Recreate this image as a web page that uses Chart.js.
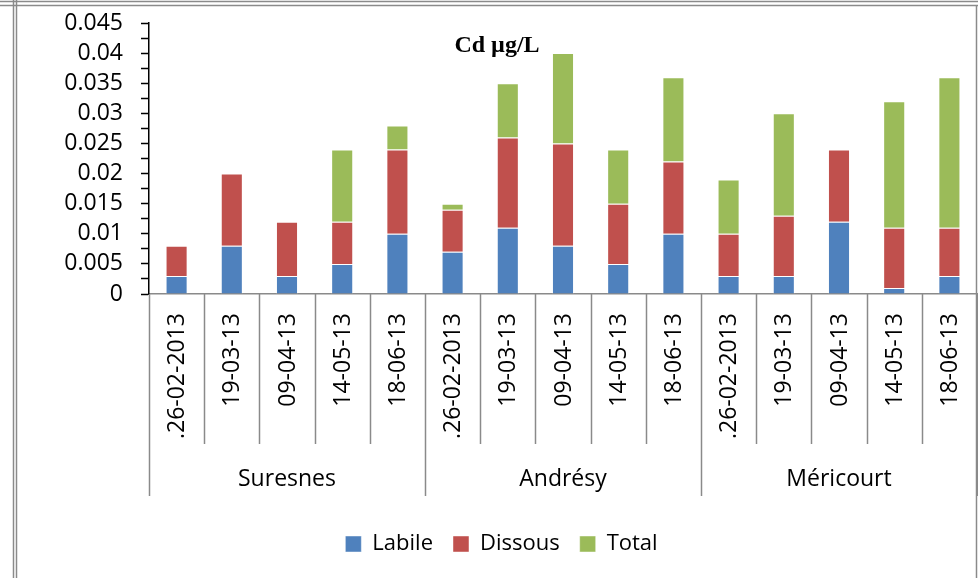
<!DOCTYPE html>
<html>
<head>
<meta charset="utf-8">
<title>Cd µg/L</title>
<script src="https://cdn.jsdelivr.net/npm/chart.js@4"></script>
<style>
  html, body { margin: 0; padding: 0; background: #fff; }
  canvas { display: block; }
</style>
</head>
<body>
<canvas id="cdChart" width="978" height="578"></canvas>
<script>
// sampling dates, three sites of five dates each
const dates = ['.26-02-2013', '19-03-13', '09-04-13', '14-05-13', '18-06-13',
               '.26-02-2013', '19-03-13', '09-04-13', '14-05-13', '18-06-13',
               '.26-02-2013', '19-03-13', '09-04-13', '14-05-13', '18-06-13'];
const sites = ['Suresnes', 'Andrésy', 'Méricourt'];

// stacked segments (µg/L)
const labile  = [0.003, 0.008, 0.003, 0.005, 0.010,  0.007, 0.011, 0.008, 0.005, 0.010,  0.003, 0.003, 0.012, 0.001, 0.003];
const dissous = [0.005, 0.012, 0.009, 0.007, 0.014,  0.007, 0.015, 0.017, 0.010, 0.012,  0.007, 0.010, 0.012, 0.010, 0.008];
const total   = [0,     0,     0,     0.012, 0.004,  0.001, 0.009, 0.015, 0.009, 0.014,  0.009, 0.017, 0,     0.021, 0.025];

const yMax = 0.045;
const yStep = 0.0025;

const FONT = '"Open Sans", "DejaVu Sans", sans-serif';

// frame, title and the two-level category axis
const decor = {
    id: 'decor',
    beforeDraw(chart) {
        const ctx = chart.ctx;
        ctx.save();
        ctx.fillStyle = '#fff';
        ctx.fillRect(0, 0, chart.width, chart.height);
        ctx.strokeStyle = '#8a8a8a';
        ctx.lineWidth = 1.5;
        ctx.beginPath();
        ctx.moveTo(13.5, 0); ctx.lineTo(13.5, chart.height);
        ctx.moveTo(16.5, 0); ctx.lineTo(16.5, chart.height);
        ctx.moveTo(0, 1.5); ctx.lineTo(chart.width, 1.5);
        ctx.moveTo(0, 5.5); ctx.lineTo(chart.width, 5.5);
        ctx.moveTo(976.5, 5.5); ctx.lineTo(976.5, chart.height);
        ctx.stroke();
        ctx.restore();
    },
    afterDraw(chart) {
        const ctx = chart.ctx;
        const x = chart.scales.x;
        const y0 = x.top;
        const half = (x.getPixelForValue(1) - x.getPixelForValue(0)) / 2;

        ctx.save();
        // title
        ctx.fillStyle = '#000';
        ctx.font = 'bold 24px "Liberation Serif", "DejaVu Serif", serif';
        ctx.textAlign = 'center';
        ctx.textBaseline = 'alphabetic';
        ctx.fillText('Cd µg/L', 497, 52);

        // separators
        ctx.strokeStyle = '#8a8a8a';
        ctx.lineWidth = 1.5;
        ctx.beginPath();
        for (let i = 0; i <= dates.length; i++) {
            const px = Math.round(x.getPixelForValue(i) - half) + 0.5;
            const isGroup = i % 5 === 0;
            ctx.moveTo(px, y0);
            ctx.lineTo(px, isGroup ? y0 + 202 : y0 + 150);
        }
        ctx.stroke();

        // rotated dates
        ctx.font = '23px ' + FONT;
        ctx.textAlign = 'right';
        ctx.textBaseline = 'middle';
        dates.forEach((d, i) => {
            ctx.save();
            ctx.translate(x.getPixelForValue(i) + 1, y0 + 19);
            ctx.rotate(-Math.PI / 2);
            ctx.fillText(d, 0, 0);
            ctx.restore();
        });

        // site names
        ctx.textAlign = 'center';
        sites.forEach((s, g) => {
            const cx = (x.getPixelForValue(g * 5) + x.getPixelForValue(g * 5 + 4)) / 2;
            ctx.fillText(s, cx, y0 + 185);
        });
        ctx.restore();
    }
};

const ctx = document.getElementById('cdChart').getContext('2d');
const cdChart = new Chart(ctx, {
    type: 'bar',
    data: {
        labels: dates,
        datasets: [
            { label: 'Labile', data: labile, backgroundColor: '#4F81BD' },
            { label: 'Dissous', data: dissous, backgroundColor: '#C0504D' },
            { label: 'Total', data: total, backgroundColor: '#9BBB59' }
        ]
    },
    options: {
        responsive: false,
        animation: false,
        layout: { padding: { top: 23, right: 1, bottom: 13, left: 26 } },
        datasets: {
            bar: {
                barPercentage: 0.4,
                categoryPercentage: 1,
                borderWidth: 1,
                borderColor: 'rgba(255,255,255,0.45)'
            }
        },
        scales: {
            x: {
                stacked: true,
                ticks: { display: false },
                grid: { drawOnChartArea: false, drawTicks: false },
                border: { color: '#8a8a8a', width: 1.5 },
                afterFit: s => { s.height = 219; }
            },
            y: {
                stacked: true,
                min: 0,
                max: yMax,
                ticks: {
                    stepSize: yStep,
                    color: '#000',
                    font: { family: FONT, size: 23 },
                    padding: 18,
                    autoSkip: false,
                    callback: v => (Math.round(v / yStep) % 2 === 0 ? String(Number(v.toFixed(4))) : '')
                },
                grid: { drawOnChartArea: false, tickLength: 8, color: '#000', tickWidth: 1.5 },
                border: { color: '#000', width: 1.5 },
                afterFit: s => { s.width = 123; s.paddingTop = 0; s.paddingBottom = 0; }
            }
        },
        plugins: {
            legend: {
                position: 'bottom',
                labels: {
                    color: '#000',
                    font: { family: FONT, size: 22 },
                    boxWidth: 16,
                    boxHeight: 16,
                    padding: 20
                }
            },
            tooltip: { enabled: false }
        }
    },
    plugins: [decor]
});
</script>
</body>
</html>
